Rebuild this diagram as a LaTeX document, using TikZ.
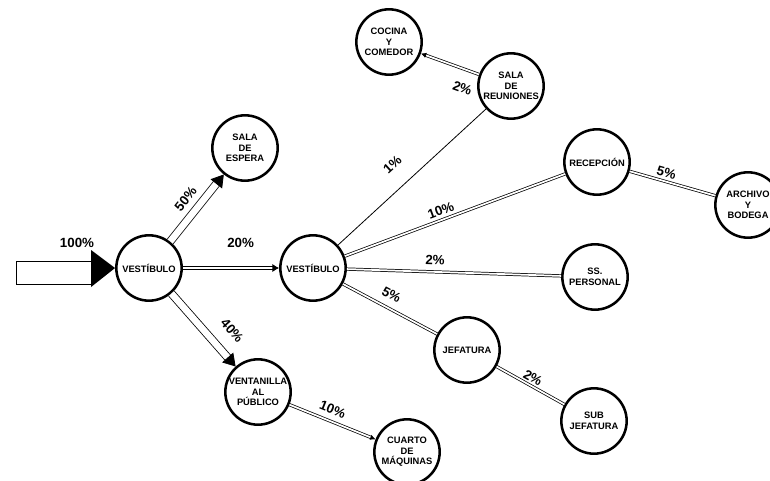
\documentclass[tikz,border=0pt]{standalone}
\usepackage{fontspec}
\setmainfont{Liberation Sans}
\usetikzlibrary{arrows.meta,calc}

\begin{document}
\begin{tikzpicture}[x=0.75pt,y=-0.75pt,>=Latex,
  room/.style={circle,draw,line width=1.9pt,minimum size=49pt,inner sep=0pt,
    align=center,font=\fontsize{7}{7.9}\selectfont\bfseries},
  flow/.style={double,line width=0.55pt,double distance=1.3pt},
  midflow/.style={double,line width=0.55pt,double distance=2pt,
    -{Latex[length=5pt,width=6pt]}},
  wideflow/.style={double,line width=0.6pt,double distance=5pt,
    -{Triangle[length=9pt,width=11pt]}},
  pct/.style={font=\fontsize{10}{12}\selectfont\bfseries,inner sep=1pt}]
\useasboundingbox (0,0) rectangle (770,481);

% rooms
\node[room] (v1) at (149,268) {VESTÍBULO};
\node[room] (v2) at (313,268) {VESTÍBULO};
\node[room] (espera) at (245,148) {SALA\\DE\\ESPERA};
\node[room] (ventanilla) at (258,392) {VENTANILLA\\AL\\PÚBLICO};
\node[room] (cuarto) at (407,452) {CUARTO\\DE\\MÁQUINAS};
\node[room] (cocina) at (389,42) {COCINA\\Y\\COMEDOR};
\node[room] (reuniones) at (511,86) {SALA\\DE\\REUNIONES};
\node[room] (recepcion) at (597,162) {RECEPCIÓN};
\node[room] (archivo) at (748,205) {ARCHIVO\\Y\\BODEGA};
\node[room] (personal) at (595,277) {SS.\\PERSONAL};
\node[room] (jefatura) at (467,350) {JEFATURA};
\node[room] (subjef) at (594,421) {SUB\\JEFATURA};

% entrance
\draw[line width=0.6pt] ($(v1.west)+(-99,-7)$) rectangle ($(v1.west)+(-24,16)$);
\fill ($(v1.west)+(-24,-18)$) -- (v1.west) -- ($(v1.west)+(-24,19)$) -- cycle;
\node[pct] (p100) at (77,243) {100\%};

% from the first hall
\draw[wideflow] (v1) -- node[pct,sloped,above=6pt] (p50) {50\%} (espera);
\draw[midflow] (v1) -- node[pct,above=14pt,pos=0.6] (p20) {20\%} (v2);
\draw[wideflow] (v1) -- node[pct,sloped,above=11pt,pos=0.7] (p40) {40\%} (ventanilla);
\draw[flow,-{Latex[length=4pt,width=4pt]}] (ventanilla) -- node[pct,sloped,above=4pt,pos=0.45] (p10a) {10\%} (cuarto);

% from the second hall
\draw[line width=0.6pt] (v2) -- node[pct,sloped,above=12pt,pos=0.47] (p1) {1\%} (reuniones);
\draw[flow] (v2) -- node[pct,sloped,above=2pt,pos=0.45] (p10b) {10\%} (recepcion);
\draw[flow] (v2) -- node[pct,sloped,above=4pt,pos=0.41] (p2a) {2\%} (personal);
\draw[flow] (v2) -- node[pct,sloped,above=5pt,pos=0.45] (p5a) {5\%} (jefatura);
\draw[flow] (jefatura) -- node[pct,sloped,above=1pt,pos=0.48] (p2b) {2\%} (subjef);
\draw[flow] (recepcion) -- node[pct,sloped,above=2pt,pos=0.4] (p5b) {5\%} (archivo);
\draw[flow,-{Latex[length=4pt,width=4pt]}] (reuniones) -- node[pct,sloped,below=9pt,pos=0.18] (p2c) {2\%} (cocina);
\end{tikzpicture}
\end{document}
